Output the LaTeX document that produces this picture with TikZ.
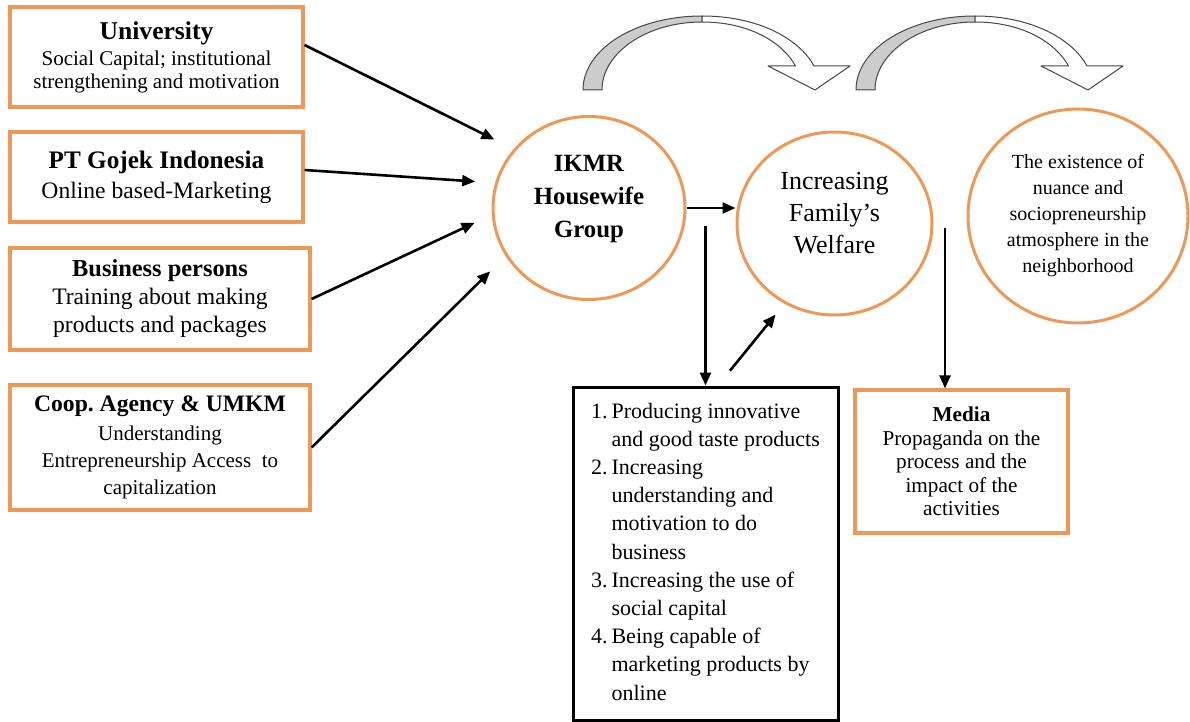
\documentclass[tikz,border=0pt]{standalone}
\usepackage{fontspec}
\setmainfont{Liberation Serif}
\usetikzlibrary{positioning, arrows.meta, shapes.geometric}

\definecolor{boxorange}{RGB}{236,152,88}
\definecolor{arcgray}{RGB}{204,204,204}
\definecolor{arcline}{RGB}{70,70,70}

\begin{document}
\begin{tikzpicture}[
    x=0.5pt, y=-0.5pt,
    actor/.style={
        rectangle,
        draw=boxorange,
        line width=1.6pt,
        align=center,
        inner sep=0pt
    },
    hub/.style={
        ellipse,
        draw=boxorange,
        line width=1.5pt,
        inner sep=0pt,
        align=center
    },
    listbox/.style={
        rectangle,
        draw,
        line width=1.5pt,
        inner sep=0pt
    },
    arrow/.style={-{Triangle[length=6.5pt,width=5.5pt]}, line width=1.3pt},
    curvedband/.style={fill=arcgray, draw=arcline, line width=0.5pt, line join=round}
]
\useasboundingbox (0,0) rectangle (1190,722);

% supporting actors
\node[actor, minimum width=146.5pt, minimum height=50pt,
      font=\fontsize{10.5}{11.5}\selectfont] (univ) at (156.5,57)
    {{\fontsize{12.8}{15}\selectfont\bfseries University}\\[1.5pt]
     Social Capital; institutional\\strengthening and motivation};
\node[actor, minimum width=146.5pt, minimum height=45pt,
      font=\fontsize{11.8}{14}\selectfont] (gojek) at (156.5,177)
    {{\fontsize{12.6}{15}\selectfont\bfseries PT Gojek Indonesia}\\[1pt]
     Online based-Marketing};
\node[actor, minimum width=150pt, minimum height=51pt,
      font=\fontsize{11.8}{14}\selectfont] (bizp) at (160,299)
    {{\fontsize{12.2}{15}\selectfont\bfseries Business persons}\\
     Training about making\\products and packages};
\node[actor, minimum width=150pt, minimum height=62.5pt,
      font=\fontsize{10.5}{13.5}\selectfont] (coop) at (160,447.5)
    {{\fontsize{11.8}{15}\selectfont\bfseries Coop.\ Agency \& UMKM}\\[1pt]
     Understanding\\Entrepreneurship Access \ to\\capitalization};

% circles
\node[hub, minimum width=96pt, minimum height=91.5pt] (ikmr) at (589,208) {};
\node[font=\fontsize{12.4}{16.5}\selectfont\bfseries, align=center] (ikmrtxt) at (589,199)
    {IKMR\\Housewife\\Group};
\node[hub, minimum width=97.5pt, minimum height=91.5pt] (welfare) at (834.5,223.5) {};
\node[font=\fontsize{13}{16}\selectfont, align=center] (welfaretxt) at (834.5,213)
    {Increasing\\Family’s\\Welfare};
\node[hub, minimum width=110pt, minimum height=107pt,
      font=\fontsize{10}{13}\selectfont] (nbhd) at (1078,216)
    {The existence of\\nuance and\\sociopreneurship\\atmosphere in the\\neighborhood};

% results
\node[listbox, minimum width=132.5pt, minimum height=166.5pt,
      font=\fontsize{11}{14.1}\selectfont] (list) at (705.5,553.5)
    {\begin{tabular}{@{}r@{\hspace{2pt}}l@{}}
     1.& Producing innovative\\
       & and good taste products\\
     2.& Increasing\\
       & understanding and\\
       & motivation to do\\
       & business\\
     3.& Increasing the use of\\
       & social capital\\
     4.& Being capable of\\
       & marketing products by\\
       & online
     \end{tabular}};
\node[actor, minimum width=106.5pt, minimum height=71.5pt,
      font=\fontsize{10.6}{11.8}\selectfont] (media) at (961.5,461.5)
    {{\bfseries Media}\\Propaganda on the\\process and the\\impact of the\\activities};

% connectors
\draw[arrow, shorten >=10.7pt] ([yshift=6pt]univ.east) -- (ikmr.142);
\draw[arrow, shorten >=10pt] ([yshift=3.5pt]gojek.east) -- (ikmr.165.5);
\draw[arrow, shorten >=9.5pt] (bizp.east) -- (ikmr.184);
\draw[arrow, shorten >=10.8pt] (coop.east) -- (ikmr.210);
\draw[arrow] (ikmr.east) -- (ikmr.east -| welfare.west);
\draw[arrow] ([yshift=79.5pt]list.north) -- (list.north);
\draw[arrow, shorten <=9.5pt, shorten >=7pt] ([xshift=6.25pt]list.north) -- (welfare.238.6);
\draw[arrow] ([xshift=-8.25pt,yshift=80pt]media.north) -- ([xshift=-8.25pt]media.north);

% curved block arrows
\foreach \dx in {0,273} {
  \begin{scope}[shift={(\dx,0)}]
    \draw[curvedband] (583,90) .. controls (583,49) and (636,16) .. (702,16)
        -- (702,22) .. controls (647,22) and (602,52.5) .. (602,90) -- cycle;
    \draw[curvedband, fill=white] (702,16) .. controls (760,16) and (800,40) .. (814,66)
        -- (850,66) -- (815,90) -- (768,66) -- (795.5,66)
        .. controls (783,43) and (750,22) .. (702,22) -- cycle;
  \end{scope}
}

\end{tikzpicture}
\end{document}
